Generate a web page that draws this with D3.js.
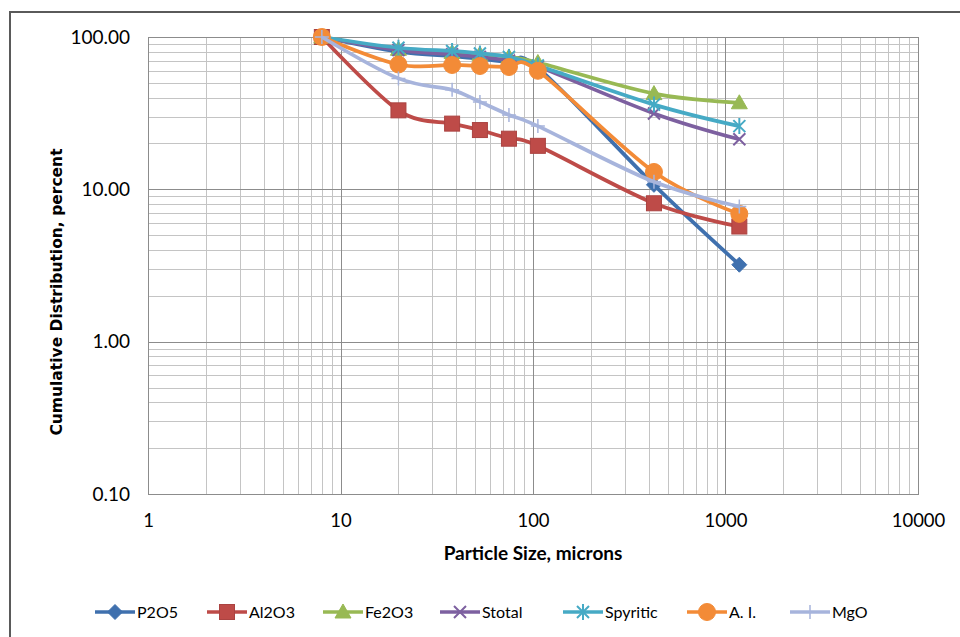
<!DOCTYPE html>
<html><head><meta charset="utf-8">
<script src="https://cdn.jsdelivr.net/npm/d3@7"></script>
<style>
html,body{margin:0;padding:0;background:#fff;}
svg{display:block;}
text{font-family:Lato,"Open Sans",sans-serif;fill:#000;}
</style></head>
<body>
<svg id="chart" width="960" height="637"></svg>
<script>
// ---- data ----
const sizes = [8, 20, 38, 53, 75, 106, 425, 1180];
const seriesNames = ["P2O5", "Al2O3", "Fe2O3", "Stotal", "Spyritic", "A. I.", "MgO"];
const P2O5     = [100, 80, 75, 72, 68, 63, 10.7, 3.2];
const Al2O3    = [100, 33, 27, 24.5, 21.5, 19.3, 8.1, 5.7];
const Fe2O3    = [100, 83, 79, 77, 74, 68, 42.5, 37];
const Stotal   = [100, 82, 77, 74, 70, 64, 31.5, 21.3];
const Spyritic = [100, 85, 81, 78, 74, 65, 36, 26];
const AI       = [100, 66, 65.5, 64.5, 63.5, 60, 13, 6.9];
const MgO      = [100, 53.5, 45, 37.5, 30.8, 26, 11.2, 7.7];
const xTicks = [1, 10, 100, 1000, 10000];
const yTicks = [0.1, 1, 10, 100];

const seriesValues = [P2O5, Al2O3, Fe2O3, Stotal, Spyritic, AI, MgO];
const colors = ["#3F70AE", "#BE4B48", "#98B954", "#7D60A0", "#46AAC5", "#F38B37", "#A7B4DC"];
const markers = ["diamond", "square", "triangle", "x", "star", "circle", "plus"];

const svg = d3.select("#chart");
const L = 148, R = 918, T = 37, B = 494;
const x = d3.scaleLog().domain([1, 10000]).range([L, R]);
const y = d3.scaleLog().domain([0.1, 100]).range([B, T]);

// outer frame
svg.append("rect").attr("x", 10).attr("y", 12).attr("width", 980).attr("height", 660)
  .attr("fill", "none").attr("stroke", "#5a5a5a").attr("stroke-width", 2);

// grid
const g = svg.append("g");
const minorX = [], minorY = [];
for (let d = 1; d < 10000; d *= 10) for (let k = 2; k <= 9; k++) minorX.push(d * k);
for (let d = 0.1; d < 99; d *= 10) for (let k = 2; k <= 9; k++) minorY.push(d * k);
g.selectAll(".mx").data(minorX).enter().append("line")
  .attr("x1", d => Math.round(x(d)) + 0.5).attr("x2", d => Math.round(x(d)) + 0.5)
  .attr("y1", T).attr("y2", B).attr("stroke", "#c4c4c4").attr("stroke-width", 1);
g.selectAll(".my").data(minorY).enter().append("line")
  .attr("y1", d => Math.round(y(d)) + 0.5).attr("y2", d => Math.round(y(d)) + 0.5)
  .attr("x1", L).attr("x2", R).attr("stroke", "#c4c4c4").attr("stroke-width", 1);
g.selectAll(".Mx").data(xTicks).enter().append("line")
  .attr("x1", d => Math.round(x(d)) + 0.5).attr("x2", d => Math.round(x(d)) + 0.5)
  .attr("y1", T).attr("y2", B).attr("stroke", "#8c8c8c").attr("stroke-width", 1);
g.selectAll(".My").data(yTicks).enter().append("line")
  .attr("y1", d => Math.round(y(d)) + 0.5).attr("y2", d => Math.round(y(d)) + 0.5)
  .attr("x1", L).attr("x2", R).attr("stroke", "#8c8c8c").attr("stroke-width", 1);
svg.append("rect").attr("x", L + 0.5).attr("y", T + 0.5).attr("width", R - L).attr("height", B - T)
  .attr("fill", "none").attr("stroke", "#8c8c8c");

// axes (labels via d3 axes, domain/ticks hidden)
const xAxis = svg.append("g").attr("transform", `translate(0,${B})`)
  .call(d3.axisBottom(x).tickValues(xTicks).tickFormat(d3.format("d")).tickSize(0).tickPadding(20));
xAxis.select(".domain").remove();
xAxis.selectAll("text").style("font-family", "Lato, sans-serif").style("font-size", "18.5px").attr("fill", "#000");
const yAxis = svg.append("g").attr("transform", `translate(${L},0)`)
  .call(d3.axisLeft(y).tickValues(yTicks).tickFormat(d3.format(".2f")).tickSize(0).tickPadding(18));
yAxis.select(".domain").remove();
yAxis.selectAll("text").style("font-family", "Lato, sans-serif").style("font-size", "19px").attr("fill", "#000");

// axis titles
svg.append("text").attr("x", 533).attr("y", 560).attr("text-anchor", "middle")
  .style("font-family", "Lato, sans-serif").style("font-weight", "bold").style("font-size", "19px")
  .text("Particle Size, microns");
svg.append("text").attr("transform", "translate(62,292) rotate(-90)").attr("text-anchor", "middle")
  .style("font-family", "'DejaVu Sans', sans-serif").style("font-weight", "bold").style("font-size", "15.5px")
  .text("Cumulative Distribution, percent");

// marker drawing
function drawMarker(sel, type, color) {
  if (type === "diamond") {
    sel.append("path").attr("d", "M0,-7.5L7.5,0L0,7.5L-7.5,0Z").attr("fill", color).attr("stroke", color);
  } else if (type === "square") {
    sel.append("rect").attr("x", -7.5).attr("y", -7.5).attr("width", 15).attr("height", 15)
      .attr("fill", color).attr("stroke", d3.color(color).darker(0.3)).attr("stroke-width", 1);
  } else if (type === "triangle") {
    sel.append("path").attr("d", "M0,-8L8,6L-8,6Z").attr("fill", color).attr("stroke", color);
  } else if (type === "x") {
    sel.append("path").attr("d", "M-6,-6L6,6M-6,6L6,-6").attr("stroke", color).attr("stroke-width", 2).attr("fill", "none");
  } else if (type === "star") {
    sel.append("path").attr("d", "M-6,-6L6,6M-6,6L6,-6M0,-8L0,8").attr("stroke", color).attr("stroke-width", 2).attr("fill", "none");
  } else if (type === "circle") {
    sel.append("circle").attr("r", 8.5).attr("fill", color).attr("stroke", color);
  } else if (type === "plus") {
    sel.append("path").attr("d", "M-7,0L7,0M0,-7L0,7").attr("stroke", color).attr("stroke-width", 1.5).attr("fill", "none");
  }
}

// series
const line = d3.line().x(d => x(d[0])).y(d => y(d[1])).curve(d3.curveCatmullRom.alpha(0));
seriesValues.forEach((vals, i) => {
  const pts = sizes.map((s, j) => [s, vals[j]]);
  const sg = svg.append("g");
  sg.append("path").datum(pts).attr("d", line).attr("fill", "none")
    .attr("stroke", colors[i]).attr("stroke-width", 3.75).attr("stroke-linejoin", "round");
  sg.selectAll(".m").data(pts).enter().append("g")
    .attr("transform", d => `translate(${x(d[0])},${y(d[1])})`)
    .each(function () { drawMarker(d3.select(this), markers[i], colors[i]); });
});

// legend
const legendLineStart = [95, 207, 323, 440, 563, 687, 790];
const lg = svg.append("g");
seriesNames.forEach((name, i) => {
  const x0 = legendLineStart[i], yy = 612;
  lg.append("line").attr("x1", x0).attr("x2", x0 + 40).attr("y1", yy).attr("y2", yy)
    .attr("stroke", colors[i]).attr("stroke-width", 3.5);
  const mg = lg.append("g").attr("transform", `translate(${x0 + 20},${yy})`);
  drawMarker(mg, markers[i], colors[i]);
  lg.append("text").attr("x", x0 + 42).attr("y", yy + 6)
    .style("font-family", "Lato, sans-serif").style("font-size", "16px").text(name);
});
</script>
</body></html>
